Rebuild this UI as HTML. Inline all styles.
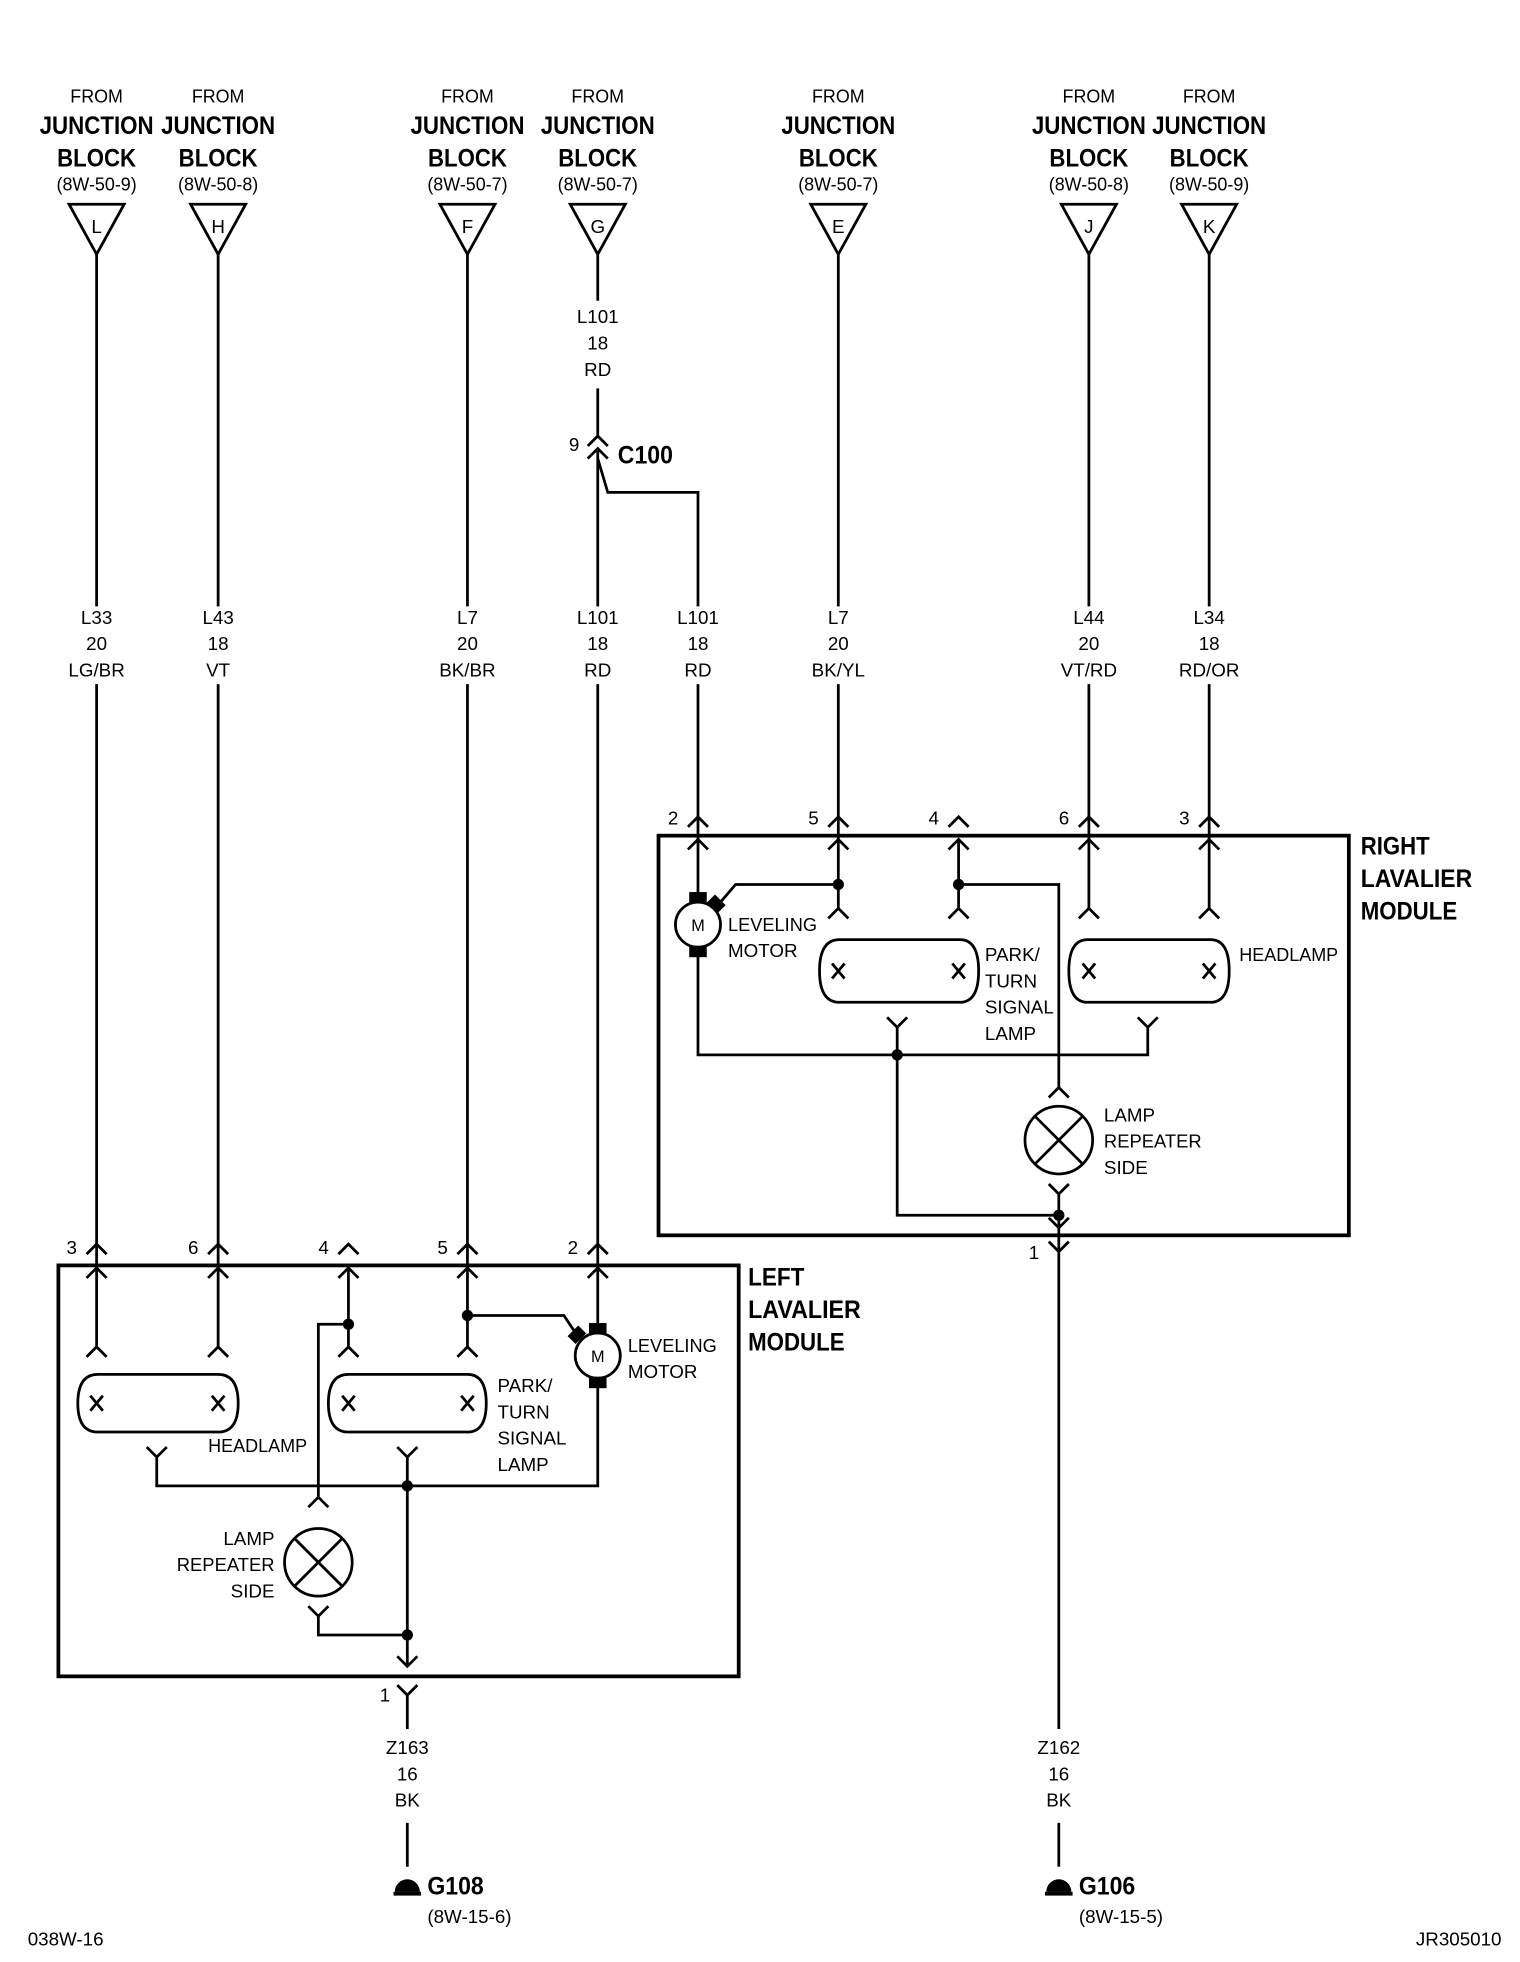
<!DOCTYPE html>
<html><head><meta charset="utf-8"><style>
html,body{margin:0;padding:0;background:#fff}
svg{display:block}
text{font-family:"Liberation Sans Narrow","Liberation Sans",sans-serif;fill:#000;font-size:15px}
.b{font-weight:bold;font-size:20px}
</style></head><body>
<svg width="1520" height="1962" viewBox="0 0 1213 1566" xmlns="http://www.w3.org/2000/svg">
<g fill="none" stroke="#000" stroke-width="2.2">
<path d="M55 163H99L77 203Z M152 163H196L174 203Z M351 163H395L373 203Z M455 163H499L477 203Z M647 163H691L669 203Z M847 163H891L869 203Z M943 163H987L965 203Z"/>
<path d="M77 203V484 M174 203V484 M373 203V484 M669 203V484 M869 203V484 M965 203V484"/>
<path d="M477 203V240 M477 310V348 M477 360V484 M477 366L485 393H557V484"/>
<path d="M469 356L477 348L485 356 M469 366L477 358L485 366"/>
<path d="M77 546V1075 M174 546V1075 M373 546V1075 M477 546V1060"/>
<path d="M557 546V716 M669 546V725 M869 546V725 M965 546V725"/>
<rect x="525.5" y="667" width="551" height="319" stroke-width="3"/>
<path d="M549 660L557 652L565 660 M661 660L669 652L677 660 M757 660L765 652L773 660 M861 660L869 652L877 660 M957 660L965 652L973 660"/>
<path d="M549 678L557 670L565 678 M661 678L669 670L677 678 M757 678L765 670L773 678 M861 678L869 670L877 678 M957 678L965 670L973 678"/>
<path d="M765 670V725 M661 733L669 725L677 733 M757 733L765 725L773 733 M861 733L869 725L877 733 M957 733L965 725L973 733"/>
<path d="M669 706H587L575 720 M765 706H845V868 M837 876L845 868L853 876"/>
<path d="M670 750H766Q781 750 781 775Q781 800 766 800H670Q654 800 654 775Q654 750 670 750Z"/>
<path d="M868 750H966Q981 750 981 775Q981 800 966 800H868Q853 800 853 775Q853 750 868 750Z"/>
<path d="M664 769L674 781M674 769L664 781 M760 769L770 781M770 769L760 781 M864 769L874 781M874 769L864 781 M960 769L970 781M970 769L960 781"/>
<path d="M708 812L716 820L724 812 M716 820V970H845 M908 812L916 820L924 812 M916 820V842H557V760"/>
<circle cx="845" cy="910" r="27"/>
<path d="M826 891L864 929M864 891L826 929"/>
<path d="M837 945L845 953L853 945 M845 953V1380 M837 972L845 980L853 972 M837 991L845 999L853 991"/>
<circle cx="557" cy="738" r="18"/>
<rect x="46.5" y="1010" width="543" height="328" stroke-width="3"/>
<path d="M69 1001L77 993L85 1001 M166 1001L174 993L182 1001 M270 1001L278 993L286 1001 M365 1001L373 993L381 1001 M469 1001L477 993L485 1001"/>
<path d="M69 1020L77 1012L85 1020 M166 1020L174 1012L182 1020 M270 1020L278 1012L286 1020 M365 1020L373 1012L381 1020 M469 1020L477 1012L485 1020"/>
<path d="M278 1012V1075 M69 1083L77 1075L85 1083 M166 1083L174 1075L182 1083 M270 1083L278 1075L286 1083 M365 1083L373 1075L381 1083"/>
<path d="M78 1097H174Q190 1097 190 1120Q190 1143 174 1143H78Q62 1143 62 1120Q62 1097 78 1097Z"/>
<path d="M278 1097H373Q388 1097 388 1120Q388 1143 373 1143H278Q262 1143 262 1120Q262 1097 278 1097Z"/>
<path d="M72 1114L82 1126M82 1114L72 1126 M169 1114L179 1126M179 1114L169 1126 M273 1114L283 1126M283 1114L273 1126 M368 1114L378 1126M378 1114L368 1126"/>
<path d="M117 1155L125 1163L133 1155 M125 1163V1186H477V1103 M317 1155L325 1163L333 1155 M325 1163V1330"/>
<path d="M373 1050H450L460 1065 M278 1057H254V1195 M246 1203L254 1195L262 1203"/>
<circle cx="254" cy="1247" r="27"/>
<path d="M235 1228L273 1266M273 1228L235 1266"/>
<path d="M246 1282L254 1290L262 1282 M254 1290V1305H325"/>
<path d="M317 1322L325 1330L333 1322 M317 1345L325 1353L333 1345 M325 1353V1380 M325 1455V1490 M845 1455V1490"/>
<circle cx="477" cy="1082" r="18"/>
</g>
<g fill="#000">
<rect x="550" y="712" width="14" height="9"/><rect x="550" y="755" width="14" height="9"/>
<rect x="566" y="717" width="12" height="9" transform="rotate(45 572 721)"/>
<rect x="470" y="1056" width="14" height="9"/><rect x="470" y="1099" width="14" height="9"/>
<rect x="454" y="1061" width="12" height="9" transform="rotate(-45 460 1065)"/>
<circle cx="669" cy="706" r="4.5"/><circle cx="765" cy="706" r="4.5"/><circle cx="716" cy="842" r="4.5"/><circle cx="845" cy="970" r="4.5"/>
<circle cx="278" cy="1057" r="4.5"/><circle cx="373" cy="1050" r="4.5"/><circle cx="325" cy="1186" r="4.5"/><circle cx="325" cy="1305" r="4.5"/>
<path d="M315 1510A10 10 0 0 1 335 1510Z"/><rect x="314" y="1510" width="22" height="3"/>
<path d="M835 1510A10 10 0 0 1 855 1510Z"/><rect x="834" y="1510" width="22" height="3"/>
</g>
<g text-anchor="middle">
<text x="77" y="82" textLength="42" lengthAdjust="spacingAndGlyphs">FROM</text><text x="77" y="107" class="b" textLength="91" lengthAdjust="spacingAndGlyphs">JUNCTION</text><text x="77" y="133" class="b" textLength="63" lengthAdjust="spacingAndGlyphs">BLOCK</text><text x="77" y="152" textLength="64" lengthAdjust="spacingAndGlyphs">(8W-50-9)</text><text x="77" y="186">L</text>
<text x="174" y="82" textLength="42" lengthAdjust="spacingAndGlyphs">FROM</text><text x="174" y="107" class="b" textLength="91" lengthAdjust="spacingAndGlyphs">JUNCTION</text><text x="174" y="133" class="b" textLength="63" lengthAdjust="spacingAndGlyphs">BLOCK</text><text x="174" y="152" textLength="64" lengthAdjust="spacingAndGlyphs">(8W-50-8)</text><text x="174" y="186">H</text>
<text x="373" y="82" textLength="42" lengthAdjust="spacingAndGlyphs">FROM</text><text x="373" y="107" class="b" textLength="91" lengthAdjust="spacingAndGlyphs">JUNCTION</text><text x="373" y="133" class="b" textLength="63" lengthAdjust="spacingAndGlyphs">BLOCK</text><text x="373" y="152" textLength="64" lengthAdjust="spacingAndGlyphs">(8W-50-7)</text><text x="373" y="186">F</text>
<text x="477" y="82" textLength="42" lengthAdjust="spacingAndGlyphs">FROM</text><text x="477" y="107" class="b" textLength="91" lengthAdjust="spacingAndGlyphs">JUNCTION</text><text x="477" y="133" class="b" textLength="63" lengthAdjust="spacingAndGlyphs">BLOCK</text><text x="477" y="152" textLength="64" lengthAdjust="spacingAndGlyphs">(8W-50-7)</text><text x="477" y="186">G</text>
<text x="669" y="82" textLength="42" lengthAdjust="spacingAndGlyphs">FROM</text><text x="669" y="107" class="b" textLength="91" lengthAdjust="spacingAndGlyphs">JUNCTION</text><text x="669" y="133" class="b" textLength="63" lengthAdjust="spacingAndGlyphs">BLOCK</text><text x="669" y="152" textLength="64" lengthAdjust="spacingAndGlyphs">(8W-50-7)</text><text x="669" y="186">E</text>
<text x="869" y="82" textLength="42" lengthAdjust="spacingAndGlyphs">FROM</text><text x="869" y="107" class="b" textLength="91" lengthAdjust="spacingAndGlyphs">JUNCTION</text><text x="869" y="133" class="b" textLength="63" lengthAdjust="spacingAndGlyphs">BLOCK</text><text x="869" y="152" textLength="64" lengthAdjust="spacingAndGlyphs">(8W-50-8)</text><text x="869" y="186">J</text>
<text x="965" y="82" textLength="42" lengthAdjust="spacingAndGlyphs">FROM</text><text x="965" y="107" class="b" textLength="91" lengthAdjust="spacingAndGlyphs">JUNCTION</text><text x="965" y="133" class="b" textLength="63" lengthAdjust="spacingAndGlyphs">BLOCK</text><text x="965" y="152" textLength="64" lengthAdjust="spacingAndGlyphs">(8W-50-9)</text><text x="965" y="186">K</text>
<text x="477" y="258">L101</text><text x="477" y="279">18</text><text x="477" y="300">RD</text>
<text x="77" y="498">L33</text><text x="77" y="519">20</text><text x="77" y="540">LG/BR</text>
<text x="174" y="498">L43</text><text x="174" y="519">18</text><text x="174" y="540">VT</text>
<text x="373" y="498">L7</text><text x="373" y="519">20</text><text x="373" y="540">BK/BR</text>
<text x="477" y="498">L101</text><text x="477" y="519">18</text><text x="477" y="540">RD</text>
<text x="557" y="498">L101</text><text x="557" y="519">18</text><text x="557" y="540">RD</text>
<text x="669" y="498">L7</text><text x="669" y="519">20</text><text x="669" y="540">BK/YL</text>
<text x="869" y="498">L44</text><text x="869" y="519">20</text><text x="869" y="540">VT/RD</text>
<text x="965" y="498">L34</text><text x="965" y="519">18</text><text x="965" y="540">RD/OR</text>
<text x="325" y="1400">Z163</text><text x="325" y="1421">16</text><text x="325" y="1442">BK</text>
<text x="845" y="1400">Z162</text><text x="845" y="1421">16</text><text x="845" y="1442">BK</text>
<text x="557" y="743" style="font-size:13px">M</text><text x="477" y="1087" style="font-size:13px">M</text>
</g>
<text x="454" y="360">9</text><text x="493" y="370" class="b" textLength="44" lengthAdjust="spacingAndGlyphs">C100</text>
<text x="533" y="658">2</text><text x="645" y="658">5</text><text x="741" y="658">4</text><text x="845" y="658">6</text><text x="941" y="658">3</text>
<text x="53" y="1001">3</text><text x="150" y="1001">6</text><text x="254" y="1001">4</text><text x="349" y="1001">5</text><text x="453" y="1001">2</text>
<text x="303" y="1358">1</text><text x="821" y="1005">1</text>
<text x="1086" y="682" class="b" textLength="55" lengthAdjust="spacingAndGlyphs">RIGHT</text><text x="1086" y="708" class="b" textLength="89" lengthAdjust="spacingAndGlyphs">LAVALIER</text><text x="1086" y="734" class="b" textLength="77" lengthAdjust="spacingAndGlyphs">MODULE</text>
<text x="597" y="1026" class="b" textLength="45" lengthAdjust="spacingAndGlyphs">LEFT</text><text x="597" y="1052" class="b" textLength="90" lengthAdjust="spacingAndGlyphs">LAVALIER</text><text x="597" y="1078" class="b" textLength="77" lengthAdjust="spacingAndGlyphs">MODULE</text>
<text x="581" y="743" textLength="71" lengthAdjust="spacingAndGlyphs">LEVELING</text><text x="581" y="764">MOTOR</text>
<text x="786" y="767">PARK/</text><text x="786" y="788">TURN</text><text x="786" y="809">SIGNAL</text><text x="786" y="830">LAMP</text>
<text x="989" y="767" textLength="79" lengthAdjust="spacingAndGlyphs">HEADLAMP</text>
<text x="881" y="895">LAMP</text><text x="881" y="916" textLength="78" lengthAdjust="spacingAndGlyphs">REPEATER</text><text x="881" y="937">SIDE</text>
<text x="501" y="1079" textLength="71" lengthAdjust="spacingAndGlyphs">LEVELING</text><text x="501" y="1100">MOTOR</text>
<text x="397" y="1111">PARK/</text><text x="397" y="1132">TURN</text><text x="397" y="1153">SIGNAL</text><text x="397" y="1174">LAMP</text>
<text x="166" y="1159" textLength="79" lengthAdjust="spacingAndGlyphs">HEADLAMP</text>
<g text-anchor="end"><text x="219" y="1233">LAMP</text><text x="219" y="1254" textLength="78" lengthAdjust="spacingAndGlyphs">REPEATER</text><text x="219" y="1275">SIDE</text></g>
<text x="341" y="1512" class="b" textLength="45" lengthAdjust="spacingAndGlyphs">G108</text><text x="341" y="1535">(8W-15-6)</text>
<text x="861" y="1512" class="b" textLength="45" lengthAdjust="spacingAndGlyphs">G106</text><text x="861" y="1535">(8W-15-5)</text>
<text x="22" y="1553">038W-16</text><text x="1130" y="1553">JR305010</text>
</svg>
</body></html>
